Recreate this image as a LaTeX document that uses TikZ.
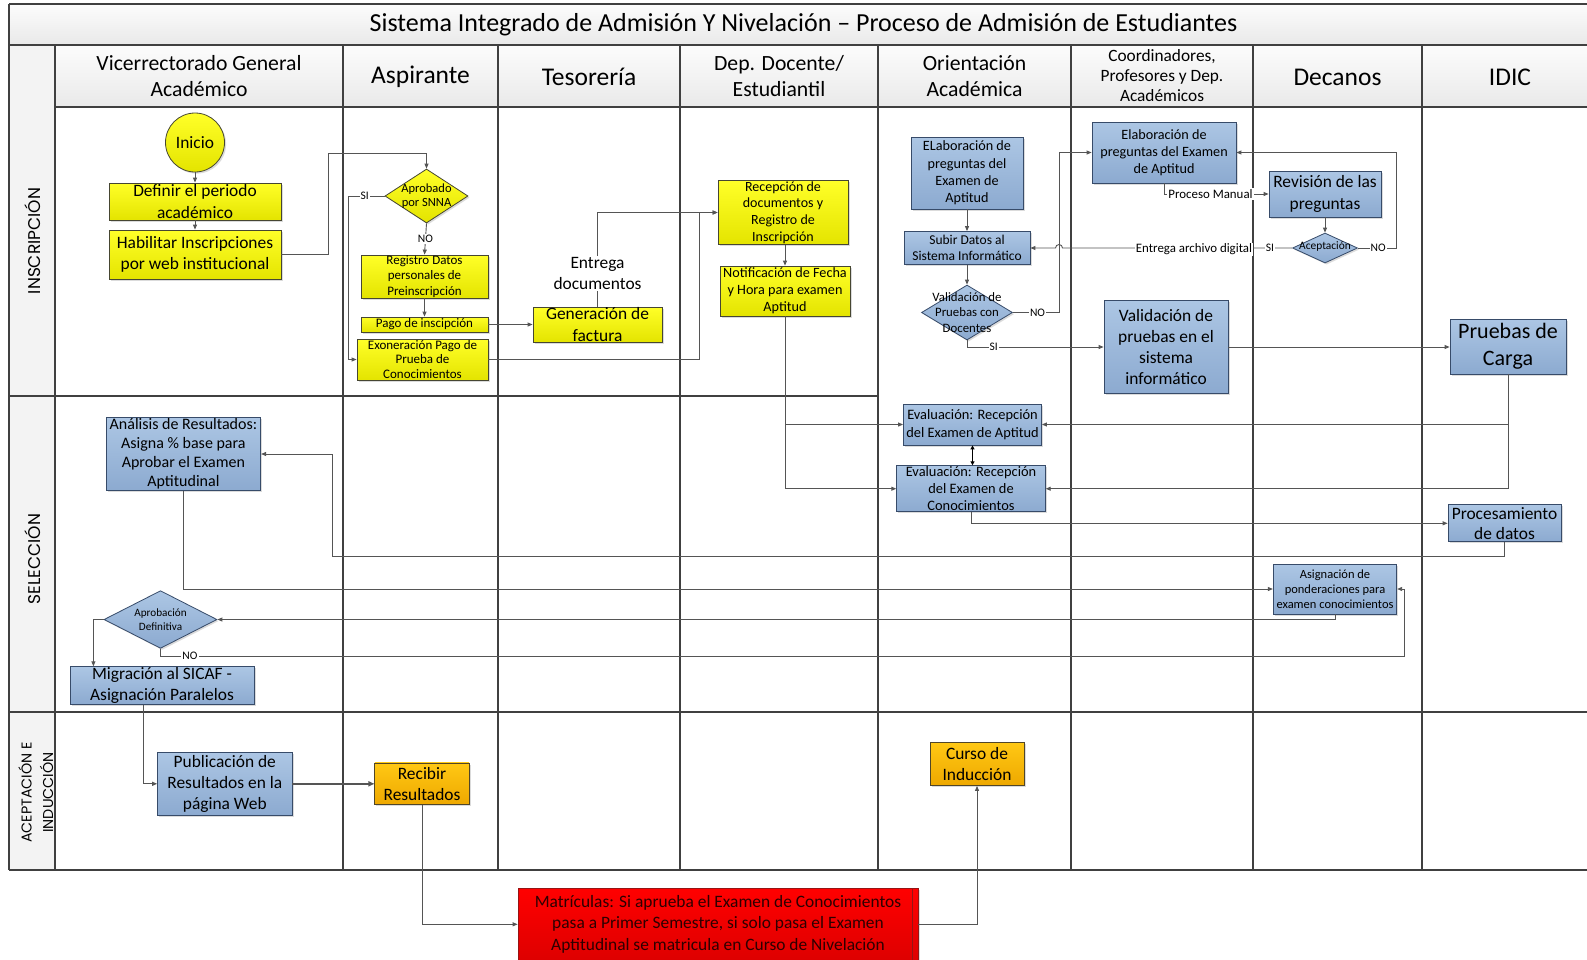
\documentclass[tikz,border=0pt]{standalone}
\usepackage{fontspec}
\setmainfont{Carlito}
\newfontfamily\phasefont{Poppins}
\usetikzlibrary{arrows.meta,shapes.geometric,shadows}

\definecolor{laneline}{RGB}{64,64,64}
\definecolor{connline}{RGB}{85,85,85}
\definecolor{ytop}{RGB}{255,255,40}
\definecolor{ybot}{RGB}{228,228,0}
\definecolor{yedge}{RGB}{70,70,50}
\definecolor{btop}{RGB}{172,198,228}
\definecolor{bbot}{RGB}{140,170,208}
\definecolor{bedge}{RGB}{55,75,105}
\definecolor{otop}{RGB}{255,200,20}
\definecolor{obot}{RGB}{238,168,0}
\definecolor{oedge}{RGB}{80,70,40}
\definecolor{rtop}{RGB}{255,0,0}
\definecolor{rbot}{RGB}{222,0,0}
\definecolor{redge}{RGB}{150,20,20}
\definecolor{rtext}{RGB}{45,0,0}
\definecolor{headtop}{RGB}{252,252,252}
\definecolor{headbot}{RGB}{233,233,233}
\definecolor{phasebg}{RGB}{243,243,243}

\newcommand{\setfs}[2]{\fontsize{#1}{#2}\selectfont}

\tikzset{
  box/.style={rectangle, inner sep=0pt, align=center, line width=0.8pt,
    drop shadow={shadow xshift=1.6pt, shadow yshift=-1.6pt, opacity=0.28}},
  ybox/.style={box, draw=yedge, top color=ytop, bottom color=ybot},
  bbox/.style={box, draw=bedge, top color=btop, bottom color=bbot},
  obox/.style={box, draw=oedge, top color=otop, bottom color=obot},
  rbox/.style={box, draw=redge, top color=rtop, bottom color=rbot, text=rtext},
  dia/.style={diamond, aspect=1.5},
  sz/.style 2 args={minimum width=#1pt, minimum height=#2pt},
  tbig/.style={font=\setfs{17.4}{21.2}},
  tmid/.style={font=\setfs{14.2}{17.2}},
  tsml/.style={font=\setfs{13}{15.4}},
  lane/.style={draw=laneline, line width=1.1pt},
  conn/.style={draw=connline, line width=0.9pt, -{Triangle[length=5pt,width=4pt]}},
  thickconn/.style={draw=connline, line width=1.8pt, -{Triangle[length=6pt,width=5pt]}},
  biarrow/.style={draw=black, line width=1.6pt, {Triangle[length=4pt,width=4pt]}-{Triangle[length=4pt,width=4pt]}},
  lbl/.style={fill=white, inner sep=1pt, font=\setfs{11.5}{13}},
  lblmid/.style={fill=white, inner sep=1pt, font=\setfs{12.9}{15}},
  head/.style={align=center, font=\setfs{21.7}{26}},
  headbig/.style={align=center, font=\setfs{25.5}{30}},
  phase/.style={rotate=90, align=center},
}

\begin{document}
\begin{tikzpicture}[x=1pt, y=-1pt]
\useasboundingbox (0,0) rectangle (1587,959);
\clip (0,0) rectangle (1587,959);
\fill[white] (0,0) rectangle (1587,959);

% ---- pool frame, title band, header band and phase column ----
\shade[top color=headtop, bottom color=headbot] (9,4) rectangle (1600,45);
\shade[top color=headtop, bottom color=headbot] (55,45) rectangle (1600,107);
\fill[phasebg] (9,45) rectangle (55,870);

\draw[lane] (9,4) -- (1600,4);
\draw[lane] (9,45) -- (1600,45);
\draw[lane] (9,4) -- (9,870);
\draw[lane] (55,45) -- (55,870);
\draw[lane] (55,107) -- (1600,107);
\draw[lane] (9,396) -- (879,396);
\draw[lane] (9,712) -- (1600,712);
\draw[lane] (9,870) -- (1600,870);
\foreach \lx in {343,498,680,878,1071,1253,1422}
  \draw[lane] (\lx,45) -- (\lx,870);

% ---- title and lane headers ----
\node[font=\setfs{26}{30}] (title) at (803.5,25) {Sistema Integrado de Admisión Y Nivelación – Proceso de Admisión de Estudiantes};
\node[head] (hVic) at (199,76) {Vicerrectorado General\\Académico};
\node[headbig] (hAsp) at (420.5,77) {Aspirante};
\node[headbig] (hTes) at (589,77) {Tesorería};
\node[head] (hDep) at (779,76) {Dep. Docente/\\Estudiantil};
\node[head] (hOri) at (974.5,76) {Orientación\\Académica};
\node[align=center, font=\setfs{17.3}{20}] (hCoo) at (1162,76) {Coordinadores,\\Profesores y Dep.\\Académicos};
\node[headbig] (hDec) at (1337.5,77) {Decanos};
\node[headbig] (hIdic) at (1510,77) {IDIC};

% ---- phase labels ----
\node[phase, font={\phasefont\setfs{17}{21}}] (pIns) at (33,241) {INSCRIPCIÓN};
\node[phase, font={\phasefont\setfs{17}{21}}] (pSel) at (33,559) {SELECCIÓN};
\node[phase, font={\phasefont\setfs{14.3}{21.7}}] (pAce) at (35.8,792.5) {ACEPTACIÓN E\\INDUCCIÓN};

% ---- inscription: yellow steps ----
\node[ybox, circle, minimum size=59pt, tbig] (inicio) at (195,142.5) {Inicio};
\node[ybox, sz={172}{37}, tbig] (def) at (195,201.5) {Definir el periodo\\académico};
\node[ybox, sz={172}{49}, tbig] (hab) at (195,254.5) {Habilitar Inscripciones\\por web institucional};
\node[ybox, dia, sz={83}{54}] (snna) at (426.5,196) {};
\node[align=center, font=\setfs{12.5}{14.5}] (snnaT) at (snna) {Aprobado\\por SNNA};
\node[ybox, sz={127}{43}, tsml] (reg) at (424.5,276.5) {Registro Datos\\personales de\\Preinscripción};
\node[ybox, sz={127}{15}, tsml] (pago) at (424.5,324.5) {Pago de inscipción};
\node[ybox, sz={131}{41}, font=\setfs{13}{14.8}] (exo) at (422.5,359.5) {Exoneración Pago de\\Prueba de\\Conocimientos};
\node[ybox, sz={129}{35}, tbig] (gen) at (597.5,324.5) {Generación de\\factura};
\node[ybox, sz={130}{64}, font=\setfs{14}{16.6}] (rec) at (783,212.5) {Recepción de\\documentos y\\Registro de\\Inscripción};
\node[ybox, sz={130}{50}, tmid] (notif) at (785,291) {Notificación de Fecha\\y Hora para examen\\Aptitud};

% ---- blue steps ----
\node[bbox, sz={112}{72}, tmid] (elab) at (967,173) {ELaboración de\\preguntas del\\Examen de\\Aptitud};
\node[bbox, sz={126}{33}, font=\setfs{13.5}{16.2}] (subir) at (967,248) {Subir Datos al\\Sistema Informático};
\node[bbox, dia, sz={91}{55}] (valD) at (967,312.5) {};
\node[align=center, font=\setfs{12.8}{15.6}] (valDT) at (valD) {Validación de\\Pruebas con\\Docentes};
\node[bbox, sz={144}{61}, tmid] (elabC) at (1164,152.5) {Elaboración de\\preguntas del Examen\\de Aptitud};
\node[bbox, sz={112}{46}, tbig] (rev) at (1325,194) {Revisión de las\\preguntas};
\node[bbox, dia, sz={65}{30}] (acep) at (1325,248) {};
\node[font=\setfs{11.4}{13}] (acepT) at (1325,246) {Aceptación};
\node[bbox, sz={124}{93}, tbig] (valP) at (1166,347) {Validación de\\pruebas en el\\sistema\\informático};
\node[bbox, sz={116}{55}, font=\setfs{22}{27.3}] (carga) at (1508,346.5) {Pruebas de\\Carga};
\node[bbox, sz={138}{41}, font=\setfs{14.4}{18}] (evA) at (972.5,424.5) {Evaluación: Recepción\\del Examen de Aptitud};
\node[bbox, sz={148.6}{46}, font=\setfs{14.4}{16.8}] (evC) at (971,488.7) {Evaluación: Recepción\\del Examen de\\Conocimientos};
\node[bbox, sz={113}{37}, font=\setfs{17.4}{20.2}] (proc) at (1504.5,523.3) {Procesamiento\\de datos};
\node[bbox, sz={154.6}{73}, font=\setfs{16}{19}] (ana) at (183.4,454) {Análisis de Resultados:\\Asigna \% base para\\Aprobar el Examen\\Aptitudinal};
\node[bbox, sz={123.5}{50}, font=\setfs{12.5}{15.2}] (asig) at (1335,589) {Asignación de\\ponderaciones para\\examen conocimientos};
\node[bbox, dia, sz={113}{57.7}] (aprob) at (160.5,619.5) {};
\node[align=center, font=\setfs{11.2}{14.2}] (aprobT) at (aprob) {Aprobación\\Definitiva};
\node[bbox, sz={184}{37.6}, tbig] (mig) at (162,685.5) {Migración al SICAF -\\Asignación Paralelos};
\node[bbox, sz={134.5}{62.3}, font=\setfs{17.4}{20.7}] (pub) at (224.8,783.8) {Publicación de\\Resultados en la\\página Web};

% ---- orange and red steps ----
\node[obox, sz={94.4}{41.7}, tbig] (recib) at (422,783.8) {Recibir\\Resultados};
\node[obox, sz={94}{43}, tbig] (curso) at (977,764) {Curso de\\Inducción};
\node[rbox, sz={400}{71.2}, tbig] (mat) at (718,924.3) {Matrículas: Si aprueba el Examen de Conocimientos\\pasa a Primer Semestre, si solo pasa el Examen\\Aptitudinal se matricula en Curso de Nivelación};
\draw[redge, line width=0.8pt] ([xshift=-6pt]mat.north east) -- ([xshift=-6pt]mat.south east);

% ---- connectors: inscription ----
\draw[conn] (inicio.south) -- (def.north);
\draw[conn] (def.south) -- (hab.north);
\draw[conn] (hab.east) -- ++(47,0) |- ([yshift=15pt]snna.north) -- (snna.north);
\draw[conn] (snna.west) -- ++(-36,0) node[lbl, pos=0.55] (siA) {SI} |- (exo.west);
\draw[conn] (snna.south) -- node[lbl] (noA) {NO} (reg.north);
\draw[conn] (reg.south) -- (pago.north);
\draw[conn] (pago.east) -- (gen.west);
\draw[conn] (gen.north) |- (rec.west);
\node[lbl, align=center, font=\setfs{17.4}{21.2}] (entDoc) at (597.5,273.5) {Entrega\\documentos};
\draw[conn] (exo.east) -- ++(211,0) |- (rec.west);
\draw[conn] (notif.north |- rec.south) -- (notif.north);
\draw[conn] (notif.south) |- (evA.west);
\draw[conn] (notif.south) |- (evC.west);

\draw[conn] (elab.south) -- (subir.north);
\draw[conn] (subir.south) -- (valD.north);
\draw[conn] (valD.east) -- ++(46.5,0) node[lbl, pos=0.53] (noB) {NO} |- (elabC.west);
\draw[conn] (valD.south) |- (valP.west);
\node[lbl] (siB) at (993.6,347) {SI};
\draw[conn] (elabC.south) |- (rev.west);
\node[lblmid] (manual) at (1210.5,194) {Proceso Manual};
\draw[conn] (rev.south) -- (acep.north);
\draw[conn] (acep.east) -- ++(39,0) node[lbl, pos=0.52] (noC) {NO} |- (elabC.east);
\draw[conn] (acep.west) -- (1062.5,248) arc[start angle=0, end angle=180, radius=3.5pt] -- (subir.east);
\node[lbl] (siC) at (1270,248) {SI};
\node[lblmid] (digital) at (1194,249.5) {Entrega archivo digital};
\draw[conn] (valP.east) -- (carga.west |- valP.east);

% ---- connectors: selection ----
\draw[conn] (carga.south) |- (evA.east);
\draw[conn] (carga.south) |- (evC.east);
\draw[biarrow] (evA.south) -- (evA.south |- evC.north);
\draw[conn] (evC.south) |- (proc.west);
\draw[conn] (proc.south) -- ++(0,14.2) -| ([xshift=71pt]ana.east) -- (ana.east);
\draw[conn] (ana.south) |- (asig.west);
\draw[conn] (asig.south) |- (aprob.east);
\draw[conn] (aprob.south) -- ++(0,7.7) -| ([xshift=7.3pt]asig.east) -- (asig.east);
\node[lbl] (noD) at (190,656) {NO};
\draw[conn] (aprob.west) -| ([xshift=-68.6pt]mig.north);

% ---- connectors: acceptance ----
\draw[conn] ([xshift=-19pt]mig.south) |- (pub.west);
\draw[thickconn] (pub.east) -- (recib.west);
\draw[conn] (recib.south) |- (mat.west);
\draw[conn] (mat.east) -| (curso.south);
\end{tikzpicture}
\end{document}
